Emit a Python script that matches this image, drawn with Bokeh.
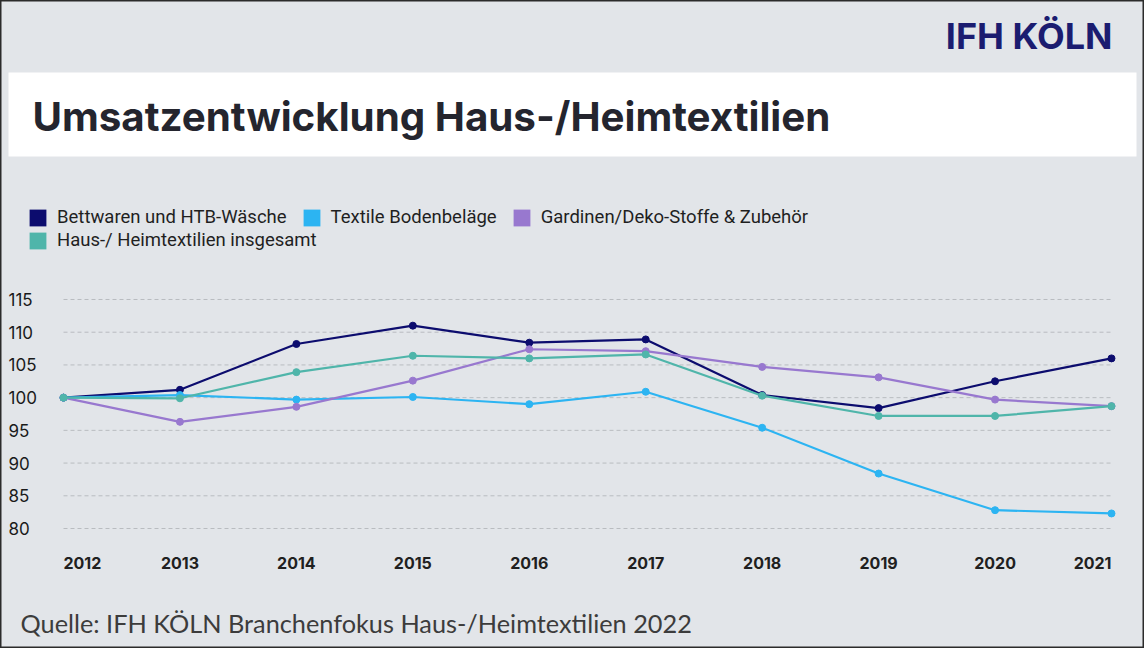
from bokeh.plotting import figure
from bokeh.models import (Range1d, Label, LabelSet, BoxAnnotation,
                          ColumnDataSource, Legend, LegendItem)
from bokeh.core.properties import value
from bokeh.embed import file_html
from bokeh.resources import INLINE

# ---------------- data ----------------
years = [2012, 2013, 2014, 2015, 2016, 2017, 2018, 2019, 2020, 2021]
year_labels = ["2012", "2013", "2014", "2015", "2016", "2017", "2018", "2019", "2020", "2021"]
bettwaren = [100, 101.2, 108.2, 111.0, 108.4, 108.9, 100.4, 98.4, 102.5, 106.0]
textile = [100, 100.4, 99.7, 100.1, 99.0, 100.9, 95.4, 88.4, 82.8, 82.3]
gardinen = [100, 96.3, 98.6, 102.6, 107.4, 107.1, 104.7, 103.1, 99.7, 98.7]
gesamt = [100, 99.9, 103.9, 106.4, 106.0, 106.6, 100.3, 97.2, 97.2, 98.7]
series_names = ["Bettwaren und HTB-Wäsche", "Textile Bodenbeläge",
                "Gardinen/Deko-Stoffe & Zubehör", "Haus-/ Heimtextilien insgesamt"]
y_ticks = [80, 85, 90, 95, 100, 105, 110, 115]
y_tick_labels = ["80", "85", "90", "95", "100", "105", "110", "115"]
title_text = "Umsatzentwicklung Haus-/Heimtextilien"
logo_text = "IFH KÖLN"
source_text = "Quelle: IFH KÖLN Branchenfokus Haus-/Heimtextilien 2022"

# ---------------- styles ----------------
colors = ["#0c0c6e", "#2cb4f2", "#9878cf", "#4fb5aa"]
BG = "#e2e5e9"
W, H = 1144, 648
NAN = float("nan")

# frame covers the whole canvas; ranges chosen so the plot area sits where the reference has it
p = figure(width=W, height=H, output_backend="svg", toolbar_location=None,
           x_range=Range1d(2011.4589, 2021.2834), y_range=Range1d(61.660, 160.698),
           x_axis_location=None, y_axis_location=None, title=None,
           min_border=0, min_border_left=0, min_border_right=0,
           min_border_top=0, min_border_bottom=0)
p.background_fill_color = BG
p.border_fill_color = BG
p.outline_line_color = "#2b2b2b"
p.outline_line_width = 2
p.xgrid.visible = False
p.ygrid.visible = False

# white title box
p.add_layout(BoxAnnotation(left=8, right=1136, top=72, bottom=156,
                           left_units="canvas", right_units="canvas",
                           top_units="canvas", bottom_units="canvas",
                           fill_color="white", fill_alpha=1.0, line_color=None,
                           level="underlay"))

# dashed horizontal grid lines at the y ticks
p.segment(x0=[years[0]] * len(y_ticks), x1=[years[-1]] * len(y_ticks),
          y0=y_ticks, y1=y_ticks, line_color="#b9bcc0", line_dash="4 3", line_width=1)

# y tick labels
yl_src = ColumnDataSource(dict(y=y_ticks, t=y_tick_labels))
p.add_layout(LabelSet(x=8, x_units="canvas", y="y", text="t", source=yl_src,
                      text_align="left", text_baseline="middle",
                      text_font=value("Inter"), text_font_size="17px",
                      text_color="#1a1a1a"))

# lines
all_series = [bettwaren, textile, gardinen, gesamt]
for vals, c in zip(all_series, colors):
    src = ColumnDataSource(dict(x=years, y=vals))
    p.line("x", "y", source=src, line_color=c, line_width=2.2)
    p.scatter("x", "y", source=src, size=7, fill_color=c, line_color=c)

# legend (invisible area renderers provide the square swatches)
items = []
for name, c in zip(series_names, colors):
    r = p.quad(left=[NAN], right=[NAN], top=[NAN], bottom=[NAN],
               fill_color=c, line_color=None)
    items.append(LegendItem(label=name, renderers=[r]))

legend_common = dict(orientation="horizontal", border_line_color=None,
                     background_fill_alpha=0, padding=0, margin=0,
                     glyph_width=21, glyph_height=21, label_standoff=9, spacing=14,
                     label_text_font="Roboto", label_text_font_size="18.5px",
                     label_text_color="#1f1f1f", label_height=21)
leg1 = Legend(items=items[:3], location=(27, 420), **legend_common)
leg2 = Legend(items=items[3:], location=(27, 397), **legend_common)
p.add_layout(leg1)
p.add_layout(leg2)

# x tick labels (first left aligned, last right aligned, others centred)
aligns = ["left"] + ["center"] * (len(years) - 2) + ["right"]
xl_src = ColumnDataSource(dict(x=years, t=year_labels, a=aligns))
p.add_layout(LabelSet(x="x", y=562, y_units="canvas", text="t", source=xl_src,
                      text_align="a", text_baseline="middle",
                      text_font=value("Inter"), text_font_size="16px",
                      text_font_style="bold", text_color="#202020"))

# title, logo, source
p.add_layout(Label(x=32, y=116, x_units="canvas", y_units="canvas",
                   text=title_text, text_font="Inter", text_font_style="bold",
                   text_font_size="40.3px", text_color="#24252e",
                   text_baseline="middle", text_align="left"))
p.add_layout(Label(x=1112, y=35, x_units="canvas", y_units="canvas",
                   text=logo_text, text_font="Inter", text_font_style="bold",
                   text_font_size="36px", text_color="#1b1c70",
                   text_baseline="middle", text_align="right"))
p.add_layout(Label(x=20, y=622, x_units="canvas", y_units="canvas",
                   text=source_text, text_font="Lato", text_font_size="25.3px",
                   text_color="#3c3c3c", text_baseline="middle", text_align="left"))

open("out.html", "w").write(file_html(p, INLINE))
